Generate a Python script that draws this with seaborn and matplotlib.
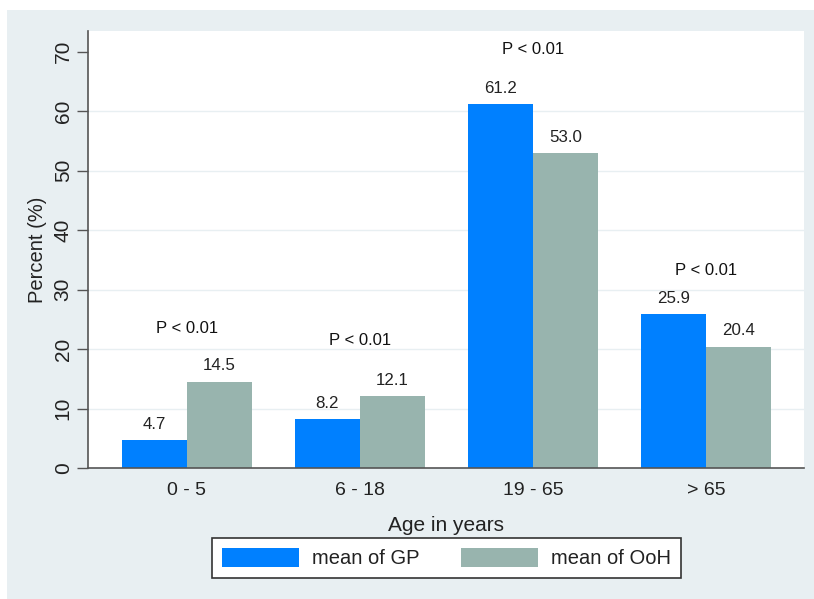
import matplotlib
matplotlib.use("Agg")
import matplotlib.pyplot as plt
import matplotlib.patches as mpatches
import seaborn as sns
import pandas as pd
import numpy as np

categories = ["0 - 5", "6 - 18", "19 - 65", "> 65"]
series = ["mean of GP", "mean of OoH"]
gp_values = [4.7, 8.2, 61.2, 25.9]
ooh_values = [14.5, 12.1, 53.0, 20.4]
p_labels = ["P < 0.01", "P < 0.01", "P < 0.01", "P < 0.01"]
p_y = [23.4, 21.4, 70.4, 33.3]
y_ticks = [0, 10, 20, 30, 40, 50, 60, 70]

colors = ["#0080ff", "#98b4ae"]
bg = "#e8eff2"

df = pd.DataFrame({
    "age": categories * 2,
    "series": [series[0]] * len(categories) + [series[1]] * len(categories),
    "value": gp_values + ooh_values,
})

sns.set_theme(style="white")
plt.rcParams["font.family"] = ["Liberation Sans", "DejaVu Sans"]

W, H = 814, 599
fig = plt.figure(figsize=(W / 100, H / 100), dpi=100, facecolor="white")
fig.patches.append(mpatches.Rectangle((7 / W, 0), 1 - 7 / W, (H - 10) / H,
                                      transform=fig.transFigure, facecolor=bg,
                                      edgecolor="none", zorder=-10))
ax = fig.add_axes([88 / W, (H - 468) / H, (804 - 88) / W, (468 - 31) / H])
ax.set_facecolor("white")

sns.barplot(data=df, x="age", y="value", hue="series", order=categories,
            hue_order=series, palette=colors, saturation=1, width=0.752,
            gap=0, ax=ax, legend=False, linewidth=0, errorbar=None)

for cont in ax.containers:
    ax.bar_label(cont, fmt="%.1f", padding=6, fontsize=12.2, color="#222222")

for i, (lab, yv) in enumerate(zip(p_labels, p_y)):
    ax.text(i, yv, lab, ha="center", va="center", fontsize=12, color="#111111")

ax.set_xlim(-0.572, 3.566)
ax.set_ylim(0, 73.5)
ax.set_yticks(y_ticks)
ax.set_yticklabels([str(t) for t in y_ticks], rotation=90, va="center",
                   fontsize=15, color="#222222")
ax.tick_params(axis="y", length=8, width=1, color="#555555", pad=3, left=True)
ax.tick_params(axis="x", length=0, pad=10, labelsize=14, labelcolor="#222222")

ax.yaxis.grid(True, color="#e8eff2", linewidth=1)
ax.set_axisbelow(True)
gl = ax.get_ygridlines()
gl[0].set_visible(False)
gl[-1].set_visible(False)

for s in ["top", "right"]:
    ax.spines[s].set_visible(False)
for s in ["left", "bottom"]:
    ax.spines[s].set_visible(True)
    ax.spines[s].set_color("#555555")
    ax.spines[s].set_linewidth(1.2)

ax.set_xlabel("Age in years", fontsize=15, color="#222222", labelpad=12)
ax.set_ylabel("Percent (%)", fontsize=14.5, color="#222222", labelpad=5)

handles = [mpatches.Patch(facecolor=c, edgecolor="none", label=l)
           for c, l in zip(colors, series)]
leg = fig.legend(handles=handles, loc="center", bbox_to_anchor=(446.5 / W, 41 / H),
                 ncol=2, frameon=True, fancybox=False, fontsize=14.5,
                 handlelength=3.8, handleheight=1.1, columnspacing=2.1,
                 borderpad=0.5, borderaxespad=0, handletextpad=0.65,
                 framealpha=1)
leg.get_frame().set_edgecolor("#333333")
leg.get_frame().set_facecolor("white")
leg.get_frame().set_linewidth(1.2)
for t in leg.get_texts():
    t.set_color("#222222")

fig.savefig("out.png", dpi=100, facecolor="white")
